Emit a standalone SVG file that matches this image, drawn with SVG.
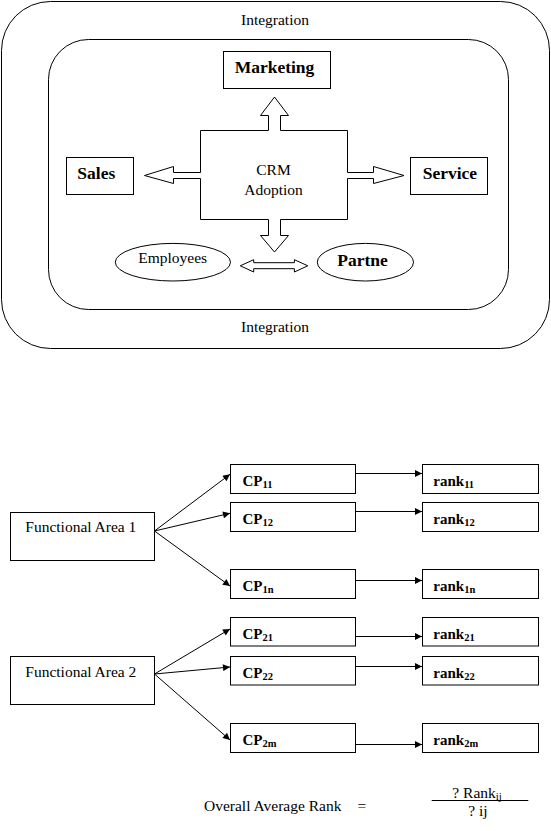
<svg xmlns="http://www.w3.org/2000/svg" width="551" height="831" viewBox="0 0 551 831">
<style>
.s{fill:none;stroke:#000;stroke-width:1}
.w{fill:#fff;stroke:#000;stroke-width:1}
.t{font-family:"Liberation Serif","Times New Roman",serif;font-size:15.5px;fill:#000}
.b{font-family:"Liberation Serif","Times New Roman",serif;font-size:17.5px;font-weight:bold;fill:#000}
.c{font-family:"Liberation Serif","Times New Roman",serif;font-size:15px;font-weight:bold;fill:#000}
.sub{font-size:10.5px}
.ln{stroke:#000;stroke-width:1;fill:none}
.m{text-anchor:middle}
</style>
<defs>
<marker id="ah" viewBox="0 0 10 10" refX="10" refY="5" markerWidth="9" markerHeight="7" markerUnits="userSpaceOnUse" orient="auto">
<path d="M0,0 L10,5 L0,10 z" fill="#000"/>
</marker>
</defs>
<rect width="551" height="831" fill="#fff"/>

<g id="outer">
<rect class="s" x="1.5" y="1.5" width="548" height="347" rx="49" ry="49"/>
<text class="t m" x="275" y="25">Integration</text>
<text class="t m" x="275" y="332">Integration</text>
</g>
<g id="inner">
<rect class="s" x="48.5" y="39.5" width="460" height="270" rx="40" ry="40"/>
</g>
<g id="marketing">
<rect class="s" x="223.5" y="51.5" width="107" height="37"/>
<text class="b m" x="274.5" y="73">Marketing</text>
</g>
<g id="sales">
<rect class="s" x="66.5" y="157.5" width="67" height="37"/>
<text class="b" x="77.3" y="179">Sales</text>
</g>
<g id="service">
<rect class="s" x="410.5" y="157.5" width="77" height="37"/>
<text class="b" x="422.7" y="179">Service</text>
</g>
<g id="crm">
<polygon class="s" points="200.5,130.5 268.5,130.5 268.5,115.5 260.5,115.5 274.5,97 288.5,115.5 280.5,115.5 280.5,130.5 347.5,130.5 347.5,172.5 373.5,172.5 373.5,166.5 404,175.5 373.5,183.5 373.5,178.5 347.5,178.5 347.5,219.5 280.5,219.5 280.5,235.5 288.5,235.5 274.5,252 260.5,235.5 268.5,235.5 268.5,219.5 200.5,219.5 200.5,178.5 173.5,178.5 173.5,183.5 144.5,175.5 173.5,166.5 173.5,172.5 200.5,172.5"/>
<text class="t m" x="273.5" y="175">CRM</text>
<text class="t m" x="273.5" y="195">Adoption</text>
</g>
<g id="employees">
<ellipse class="s" cx="172.9" cy="262.2" rx="57.6" ry="18.8"/>
<text class="t m" x="172.7" y="263">Employees</text>
</g>
<g id="partne">
<ellipse class="s" cx="365.4" cy="262.2" rx="48.1" ry="18.8"/>
<text class="b m" x="362.6" y="266">Partne</text>
</g>

<g id="fa1">
<rect class="s" x="10.5" y="512.5" width="144" height="48"/>
<text class="t" x="25.3" y="532.3">Functional Area 1</text>
</g>
<g id="fa2">
<rect class="s" x="10.5" y="656.5" width="144" height="48"/>
<text class="t" x="25.3" y="676.5">Functional Area 2</text>
</g>

<g id="cp11"><rect class="s" x="230.5" y="464.5" width="125" height="29"/><text class="c" x="242.5" y="485.5">CP<tspan class="sub" dy="2">11</tspan></text></g>
<g id="cp12"><rect class="s" x="230.5" y="502.5" width="125" height="29"/><text class="c" x="242.5" y="523.5">CP<tspan class="sub" dy="2">12</tspan></text></g>
<g id="cp1n"><rect class="s" x="230.5" y="569.5" width="125" height="29"/><text class="c" x="242.5" y="591">CP<tspan class="sub" dy="2">1n</tspan></text></g>
<g id="cp21"><rect class="s" x="230.5" y="617.5" width="125" height="28.5"/><text class="c" x="242.5" y="639">CP<tspan class="sub" dy="2">21</tspan></text></g>
<g id="cp22"><rect class="s" x="230.5" y="656.5" width="125" height="28.5"/><text class="c" x="242.5" y="678">CP<tspan class="sub" dy="2">22</tspan></text></g>
<g id="cp2m"><rect class="s" x="230.5" y="723.5" width="125" height="29"/><text class="c" x="242.5" y="745">CP<tspan class="sub" dy="2">2m</tspan></text></g>

<g id="rank11"><rect class="s" x="422.5" y="464.5" width="116" height="29"/><text class="c" x="433.3" y="485.5">rank<tspan class="sub" dy="2">11</tspan></text></g>
<g id="rank12"><rect class="s" x="422.5" y="502.5" width="116" height="29"/><text class="c" x="433.3" y="523.5">rank<tspan class="sub" dy="2">12</tspan></text></g>
<g id="rank1n"><rect class="s" x="422.5" y="569.5" width="116" height="29"/><text class="c" x="433.3" y="591">rank<tspan class="sub" dy="2">1n</tspan></text></g>
<g id="rank21"><rect class="s" x="422.5" y="617.5" width="116" height="28.5"/><text class="c" x="433.3" y="639">rank<tspan class="sub" dy="2">21</tspan></text></g>
<g id="rank22"><rect class="s" x="422.5" y="656.5" width="116" height="28.5"/><text class="c" x="433.3" y="678">rank<tspan class="sub" dy="2">22</tspan></text></g>
<g id="rank2m"><rect class="s" x="422.5" y="723.5" width="116" height="29"/><text class="c" x="433.3" y="745">rank<tspan class="sub" dy="2">2m</tspan></text></g>

<g id="connectors">
<polygon class="w" points="240.3,265.8 253.7,259.7 253.7,262.7 294.4,262.7 294.4,259.7 307.8,265.8 294.4,272 294.4,268.7 253.7,268.7 253.7,272"/>
<line class="ln" x1="154.5" y1="531" x2="230" y2="474.3" marker-end="url(#ah)"/>
<line class="ln" x1="154.5" y1="531" x2="230" y2="513.3" marker-end="url(#ah)"/>
<line class="ln" x1="154.5" y1="531" x2="230" y2="586" marker-end="url(#ah)"/>
<line class="ln" x1="154.5" y1="674" x2="230" y2="629" marker-end="url(#ah)"/>
<line class="ln" x1="154.5" y1="674" x2="230" y2="667" marker-end="url(#ah)"/>
<line class="ln" x1="154.5" y1="674" x2="230" y2="740" marker-end="url(#ah)"/>
<line class="ln" x1="356" y1="473.5" x2="422" y2="473.5" marker-end="url(#ah)"/>
<line class="ln" x1="356" y1="511.5" x2="422" y2="511.5" marker-end="url(#ah)"/>
<line class="ln" x1="356" y1="580.5" x2="422" y2="580.5" marker-end="url(#ah)"/>
<line class="ln" x1="356" y1="636.5" x2="422" y2="636.5" marker-end="url(#ah)"/>
<line class="ln" x1="356" y1="666.5" x2="422" y2="666.5" marker-end="url(#ah)"/>
<line class="ln" x1="356" y1="744.5" x2="422" y2="744.5" marker-end="url(#ah)"/>
</g>

<g id="formula">
<text class="t" x="204" y="811">Overall Average Rank</text>
<text class="t" x="357.5" y="811">=</text>
<line class="ln" x1="431.7" y1="800.5" x2="528.3" y2="800.5"/>
<text class="t" x="452.3" y="797.5">? Rank<tspan font-size="11px" dy="2">ij</tspan></text>
<text class="t" x="468.3" y="815.7">? ij</text>
</g>
</svg>
